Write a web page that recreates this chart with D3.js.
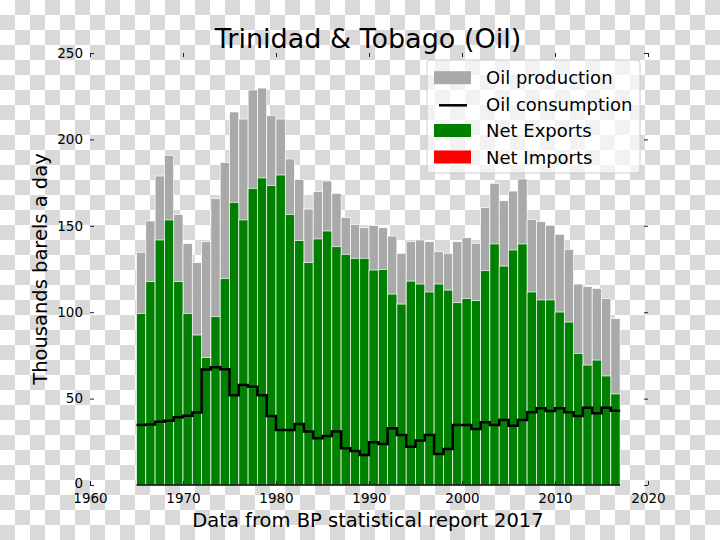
<!DOCTYPE html>
<html>
<head>
<meta charset="utf-8">
<script src="https://cdn.jsdelivr.net/npm/d3@7"></script>
<style>
  html, body { margin: 0; padding: 0; background: #ffffff; }
  svg text { font-family: "DejaVu Sans", sans-serif; fill: #000; }
</style>
</head>
<body>
<svg id="chart" width="720" height="540"></svg>
<script>
const years = d3.range(1965, 2017);
const production = [134.7, 152.8, 178.8, 190.8, 156.6, 139.7, 128.7, 140.8, 165.7, 186.7,
  215.9, 211.8, 228.6, 229.7, 213.7, 211.8, 188.7, 176.9, 159.7, 169.8,
  175.9, 168.8, 154.9, 150.8, 148.9, 150.1, 148.9, 144.1, 134.1, 141.0,
  141.8, 140.8, 135.0, 134.1, 140.8, 143.1, 139.9, 160.5, 174.6, 164.5,
  170.1, 177.1, 153.7, 152.4, 150.3, 145.1, 136.4, 116.3, 114.8, 113.8,
  108.0, 96.3];
const consumption = [34.7, 35.0, 36.6, 37.2, 39.2, 40.1, 41.9, 66.9, 68.1, 67.0,
  51.9, 57.9, 56.9, 51.9, 39.9, 31.8, 31.8, 35.3, 30.9, 27.0,
  28.4, 30.9, 21.2, 19.7, 17.4, 24.7, 23.7, 32.8, 28.9, 22.2,
  25.7, 28.9, 17.9, 20.8, 34.7, 34.7, 32.4, 36.3, 34.7, 37.6,
  34.3, 37.6, 42.1, 44.4, 42.8, 44.4, 42.1, 39.9, 44.7, 41.5,
  44.7, 43.0];
const netExports = [99.3, 117.7, 141.8, 153.4, 117.7, 99.3, 86.8, 73.7, 97.4, 119.4,
  163.6, 153.4, 171.7, 177.7, 173.4, 179.4, 156.6, 141.4, 128.7, 142.4,
  147.0, 137.9, 133.5, 131.2, 131.2, 124.4, 124.8, 110.5, 104.7, 118.0,
  116.3, 111.7, 116.3, 112.8, 105.5, 108.0, 106.7, 124.0, 139.5, 126.7,
  136.0, 139.5, 111.7, 107.1, 107.1, 100.1, 94.3, 76.2, 69.4, 72.3,
  63.1, 52.7];
const netImports = years.map(() => 0);
const xTicks = [1960, 1970, 1980, 1990, 2000, 2010, 2020];
const yTicks = [0, 50, 100, 150, 200, 250];
const legendLabels = ["Oil production", "Oil consumption", "Net Exports", "Net Imports"];

const svg = d3.select("#chart");
const W = 720, H = 540;

// checkerboard (transparent background look)
const defs = svg.append("defs");
const pat = defs.append("pattern").attr("id", "checker")
  .attr("width", 30).attr("height", 30).attr("patternUnits", "userSpaceOnUse");
pat.append("rect").attr("width", 30).attr("height", 30).attr("fill", "#ffffff");
pat.append("rect").attr("x", 15).attr("y", 0).attr("width", 15).attr("height", 15).attr("fill", "#d9d9d9");
pat.append("rect").attr("x", 0).attr("y", 15).attr("width", 15).attr("height", 15).attr("fill", "#d9d9d9");
svg.append("rect").attr("width", W).attr("height", H).attr("fill", "url(#checker)");

const x = d3.scaleLinear().domain([1960, 2020]).range([90, 648]);
const y = d3.scaleLinear().domain([0, 250]).range([485, 53]);

const data = years.map((yr, i) => ({
  year: yr, prod: production[i], cons: consumption[i], exp: netExports[i], imp: netImports[i]
}));

// production bars
svg.append("g").selectAll("rect").data(data).join("rect")
  .attr("x", d => x(d.year)).attr("width", d => x(d.year + 1) - x(d.year))
  .attr("y", d => y(d.prod)).attr("height", d => y(0) - y(d.prod))
  .attr("fill", "#a9a9a9").attr("stroke", "#ffffff").attr("stroke-width", 0.7);

// net exports bars
svg.append("g").selectAll("rect").data(data).join("rect")
  .attr("x", d => x(d.year)).attr("width", d => x(d.year + 1) - x(d.year))
  .attr("y", d => y(d.exp)).attr("height", d => y(0) - y(d.exp))
  .attr("fill", "#008000").attr("stroke", "#ffffff").attr("stroke-width", 0.7);

// net imports bars (zero)
svg.append("g").selectAll("rect").data(data).join("rect")
  .attr("x", d => x(d.year)).attr("width", d => x(d.year + 1) - x(d.year))
  .attr("y", d => y(d.imp)).attr("height", d => y(0) - y(d.imp))
  .attr("fill", "#ff0000");

// baseline under bars
svg.append("line")
  .attr("x1", x(years[0])).attr("x2", x(years[years.length - 1] + 1))
  .attr("y1", y(0)).attr("y2", y(0))
  .attr("stroke", "#000").attr("stroke-width", 1.5);

// consumption step line
const stepData = data.concat([{ year: years[years.length - 1] + 1, cons: consumption[consumption.length - 1] }]);
svg.append("path").datum(stepData)
  .attr("d", d3.line().x(d => x(d.year)).y(d => y(d.cons)).curve(d3.curveStepAfter))
  .attr("fill", "none").attr("stroke", "#000").attr("stroke-width", 2.5);

// axes
function styleAxis(g, showLabels) {
  g.select(".domain").remove();
  g.selectAll(".tick line").attr("stroke", "#222").attr("stroke-width", 1);
  g.selectAll(".tick text").style("font-size", "13.5px").style("font-family", "DejaVu Sans, sans-serif");
  if (!showLabels) g.selectAll(".tick text").remove();
}
svg.append("g").attr("transform", `translate(0,${y(0)})`)
  .call(d3.axisBottom(x).tickValues(xTicks).tickFormat(d3.format("d")).tickSize(-4).tickPadding(8))
  .call(g => styleAxis(g, true));
svg.append("g").attr("transform", `translate(0,${y(250)})`)
  .call(d3.axisTop(x).tickValues(xTicks).tickSize(-4))
  .call(g => styleAxis(g, false));
const yAxisG = svg.append("g").attr("transform", `translate(${x(1960)},0)`)
  .call(d3.axisLeft(y).tickValues(yTicks).tickSize(-4).tickPadding(7))
  .call(g => styleAxis(g, true));
// lift the "0" label a hair, as in the reference it sits just above the 1960 label
yAxisG.selectAll(".tick text").filter(d => d === 0).attr("dy", "0.2em");
svg.append("g").attr("transform", `translate(${x(2020)},0)`)
  .call(d3.axisRight(y).tickValues(yTicks).tickSize(-4))
  .call(g => styleAxis(g, false));

// title and labels
svg.append("text").attr("x", 368).attr("y", 48).attr("text-anchor", "middle")
  .style("font-size", "27px").text("Trinidad & Tobago (Oil)");
svg.append("text").attr("x", 368).attr("y", 527).attr("text-anchor", "middle")
  .style("font-size", "19.5px").text("Data from BP statistical report 2017");
svg.append("text").attr("transform", "translate(47,269) rotate(-90)").attr("text-anchor", "middle")
  .style("font-size", "19.5px").text("Thousands barels a day");

// legend
const lg = svg.append("g");
lg.append("rect").attr("x", 427).attr("y", 60).attr("width", 213).attr("height", 113)
  .attr("rx", 3).attr("fill", "#ffffff").attr("fill-opacity", 0.65)
  .attr("stroke", "#cccccc").attr("stroke-width", 1);
const rowY = [77.7, 104.3, 130.5, 157];
const swatch = [
  { type: "rect", color: "#a9a9a9" },
  { type: "line", color: "#000000" },
  { type: "rect", color: "#008000" },
  { type: "rect", color: "#ff0000" }
];
legendLabels.forEach((lab, i) => {
  const s = swatch[i];
  if (s.type === "rect") {
    lg.append("rect").attr("x", 434).attr("y", rowY[i] - 6.5).attr("width", 37).attr("height", 13)
      .attr("fill", s.color);
  } else {
    lg.append("line").attr("x1", 439).attr("x2", 467).attr("y1", rowY[i] + 1).attr("y2", rowY[i] + 1)
      .attr("stroke", s.color).attr("stroke-width", 2.5);
  }
  lg.append("text").attr("x", 486).attr("y", rowY[i] + 6.5).style("font-size", "18px").text(lab);
});
</script>
</body>
</html>
